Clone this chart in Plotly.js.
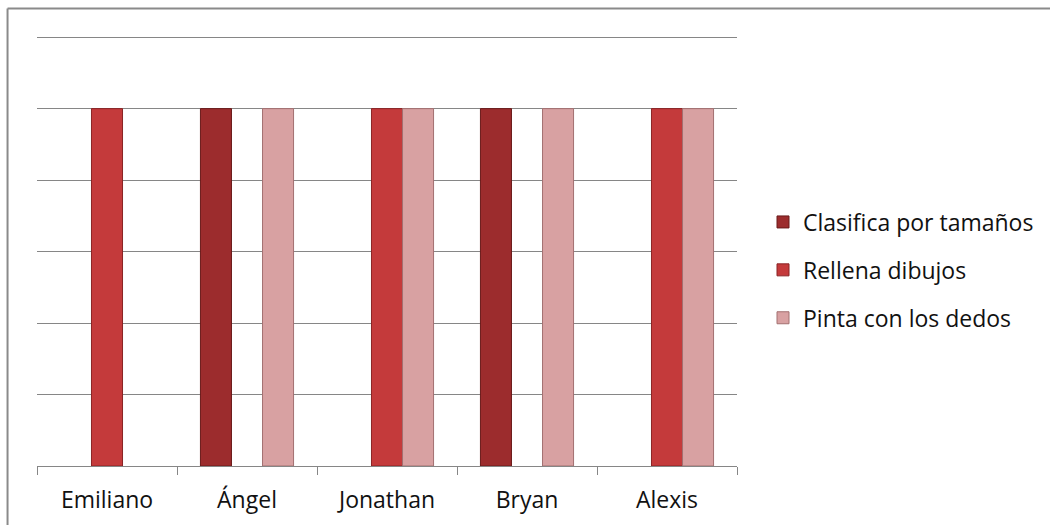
<!DOCTYPE html>
<html>
<head>
<meta charset="utf-8">
<script src="https://cdn.plot.ly/plotly-3.0.1.min.js"></script>
<style>
html,body{margin:0;padding:0;background:#fff;}
#chart{width:1050px;height:525px;}
</style>
</head>
<body>
<div id="chart"></div>
<script>
const categories = ["Emiliano", "Ángel", "Jonathan", "Bryan", "Alexis"];
const seriesNames = ["Clasifica por tamaños", "Rellena dibujos", "Pinta con los dedos"];
const clasifica = [null, 1, null, 1, null];
const rellena = [1, null, 1, null, 1];
const pinta = [null, 1, 1, 1, 1];

const colors = ["#9c2c2d", "#c43a3b", "#d8a1a2"];
const lineColors = ["#6a1a1a", "#8a2325", "#a37071"];
const values = [clasifica, rellena, pinta];

const traces = values.map((v, i) => ({
  type: "bar",
  name: seriesNames[i],
  legendgroup: "g" + i,
  x: categories,
  y: v,
  marker: {color: colors[i], line: {color: lineColors[i], width: 1}},
  hoverinfo: "skip"
}));

const W = 1050, H = 525, L = 37, R = 312, T = 30, B = 59;
const pw = W - L - R, ph = H - T - B;
const px = x => (x - L) / pw;
const py = y => 1 - (y - T) / ph;
const FONT = "'Open Sans', Lato, sans-serif";

const layout = {
  width: W, height: H,
  margin: {l: L, r: R, t: T, b: B, pad: 0},
  paper_bgcolor: "#ffffff",
  plot_bgcolor: "#ffffff",
  font: {family: FONT, color: "#111111", size: 23},
  barmode: "group",
  bargap: 0.335,
  bargroupgap: 0,
  showlegend: true,
  legend: {
    x: px(763), y: py(270), xanchor: "left", yanchor: "middle",
    font: {family: FONT, size: 23, color: "#111111"},
    tracegroupgap: 15,
    itemwidth: 30,
    bgcolor: "rgba(0,0,0,0)"
  },
  xaxis: {
    type: "category",
    showgrid: false,
    showline: true, linecolor: "#868686", linewidth: 1,
    ticks: "outside", tickson: "boundaries", ticklen: 8, tickcolor: "#868686", tickwidth: 1,
    ticklabelstandoff: 13,
    tickfont: {family: FONT, size: 23, color: "#111111"},
    zeroline: false, fixedrange: true
  },
  yaxis: {
    range: [0, 1.22], dtick: 0.2, tick0: 0,
    showgrid: true, gridcolor: "#868686", gridwidth: 1,
    showticklabels: false, ticks: "",
    showline: false, zeroline: false, fixedrange: true
  },
  shapes: [
    {type: "line", xref: "paper", yref: "paper", x0: px(7.5), x1: px(7.5), y0: py(8.5), y1: py(530), line: {color: "#8a8a8a", width: 2}},
    {type: "line", xref: "paper", yref: "paper", x0: px(7.5), x1: px(1060), y0: py(8.5), y1: py(8.5), line: {color: "#8a8a8a", width: 2}}
  ]
};

Plotly.newPlot("chart", traces, layout, {displayModeBar: false, staticPlot: true});
</script>
</body>
</html>
